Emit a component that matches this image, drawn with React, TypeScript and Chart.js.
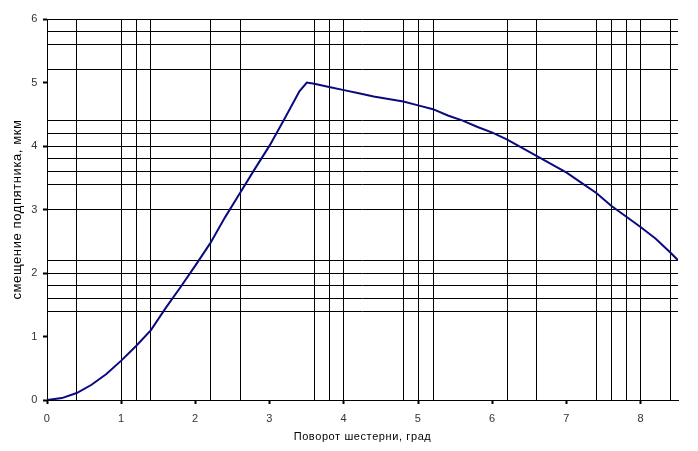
import React, { useEffect, useRef } from 'react';
import { Chart, registerables } from 'chart.js';

Chart.register(...registerables);

// Rotation angle of the gear, degrees
const angleDeg = [
  0, 0.2, 0.4, 0.6, 0.8, 1.0, 1.2, 1.4, 1.6, 1.8, 2.0, 2.2, 2.4, 2.6, 2.8, 3.0, 3.2, 3.4, 3.5,
  3.6, 3.8, 4.0, 4.2, 4.4, 4.6, 4.8, 5.0, 5.2, 5.4, 5.6, 5.8, 6.0, 6.2, 6.4, 6.6, 6.8, 7.0,
  7.2, 7.4, 7.6, 7.8, 8.0, 8.2, 8.4, 8.5,
];
// Displacement of the thrust bearing, micrometres
const displacementUm = [
  0, 0.03, 0.11, 0.24, 0.41, 0.62, 0.85, 1.1, 1.45, 1.78, 2.12, 2.47, 2.88, 3.26, 3.64, 4.01, 4.43, 4.86, 5.0,
  4.98, 4.93, 4.88, 4.83, 4.78, 4.74, 4.7, 4.64, 4.58, 4.48, 4.4, 4.3, 4.21, 4.1, 3.97, 3.84, 3.71, 3.58,
  3.42, 3.26, 3.06, 2.89, 2.72, 2.54, 2.32, 2.2,
];

const xTickValues = [0, 1, 2, 3, 4, 5, 6, 7, 8];
const yTickValues = [0, 1, 2, 3, 4, 5, 6];
const xGridValues = [0.4, 1.0, 1.2, 1.4, 2.2, 2.6, 3.6, 3.8, 4.0, 4.8, 5.0, 5.2, 6.2, 6.6, 7.4, 7.6, 7.8, 8.0, 8.4];
const yGridValues = [1.4, 1.6, 1.8, 2.0, 2.2, 3.0, 3.4, 3.6, 3.8, 4.0, 4.2, 4.4, 5.2, 5.6, 5.8, 6.0];

const xAxisTitle = 'Поворот шестерни, град';
const yAxisTitle = 'смещение подпятника, мкм';

const FONT = "'Liberation Sans', Arial, sans-serif";

const letterSpacingPlugin = {
  id: 'letterSpacing',
  beforeDraw(chart: any) {
    try {
      chart.ctx.letterSpacing = '0.6px';
    } catch (e) {
      /* ignore */
    }
  },
};

export default function App() {
  const ref = useRef<HTMLCanvasElement>(null);

  useEffect(() => {
    if (!ref.current) return;
    const chart = new Chart(ref.current, {
      type: 'scatter',
      data: {
        datasets: [
          {
            data: angleDeg.map((x, i) => ({ x, y: displacementUm[i] })),
            showLine: true,
            borderColor: '#0a0a80',
            backgroundColor: '#0a0a80',
            borderWidth: 2,
            pointRadius: 0,
            tension: 0,
            fill: false,
          } as any,
        ],
      },
      plugins: [letterSpacingPlugin],
      options: {
        responsive: false,
        animation: false,
        layout: { padding: { left: 0, top: 19, right: 20, bottom: 0 } },
        plugins: { legend: { display: false }, tooltip: { enabled: false } },
        scales: {
          x: {
            type: 'linear',
            position: 'bottom',
            min: 0,
            max: 8.5,
            afterBuildTicks: (s: any) => {
              s.ticks = xTickValues.map((v) => ({ value: v }));
            },
            afterFit: (s: any) => {
              s.height = 51;
            },
            ticks: {
              color: '#333',
              font: { family: FONT, size: 11 },
              padding: 8,
              maxRotation: 0,
              autoSkip: false,
              callback: (v: any) => String(v),
            },
            grid: { drawOnChartArea: false, drawTicks: true, tickLength: 4, color: '#000', tickWidth: 2 },
            border: { display: true, color: '#000', width: 1 },
            title: {
              display: true,
              text: xAxisTitle,
              color: '#000',
              font: { family: FONT, size: 11 },
              padding: { top: 0, bottom: 7 },
            },
          },
          xg: {
            type: 'linear',
            axis: 'x',
            position: 'bottom',
            min: 0,
            max: 8.5,
            afterBuildTicks: (s: any) => {
              s.ticks = xGridValues.map((v) => ({ value: v }));
            },
            ticks: { display: false },
            grid: { drawOnChartArea: true, drawTicks: false, color: '#000', lineWidth: 1 },
            border: { display: false },
          } as any,
          y: {
            type: 'linear',
            position: 'left',
            min: 0,
            max: 6,
            afterBuildTicks: (s: any) => {
              s.ticks = yTickValues.map((v) => ({ value: v }));
            },
            afterFit: (s: any) => {
              s.width = 47;
            },
            ticks: {
              color: '#333',
              font: { family: FONT, size: 11 },
              padding: 5,
              callback: (v: any) => String(v),
            },
            grid: { drawOnChartArea: false, drawTicks: true, tickLength: 4, color: '#000', tickWidth: 2 },
            border: { display: true, color: '#000', width: 1 },
            title: {
              display: true,
              text: yAxisTitle,
              color: '#000',
              font: { family: FONT, size: 13 },
              padding: { top: 10, bottom: 0 },
            },
          },
          yg: {
            type: 'linear',
            axis: 'y',
            position: 'left',
            min: 0,
            max: 6,
            afterBuildTicks: (s: any) => {
              s.ticks = yGridValues.map((v) => ({ value: v }));
            },
            ticks: { display: false },
            grid: { drawOnChartArea: true, drawTicks: false, color: '#000', lineWidth: 1 },
            border: { display: false },
          } as any,
        },
      },
    });
    return () => chart.destroy();
  }, []);

  return (
    <div style={{ position: 'absolute', left: 0, top: 0, width: 698, height: 451, background: '#fff' }}>
      <canvas ref={ref} width={698} height={451} style={{ display: 'block' }} />
    </div>
  );
}
